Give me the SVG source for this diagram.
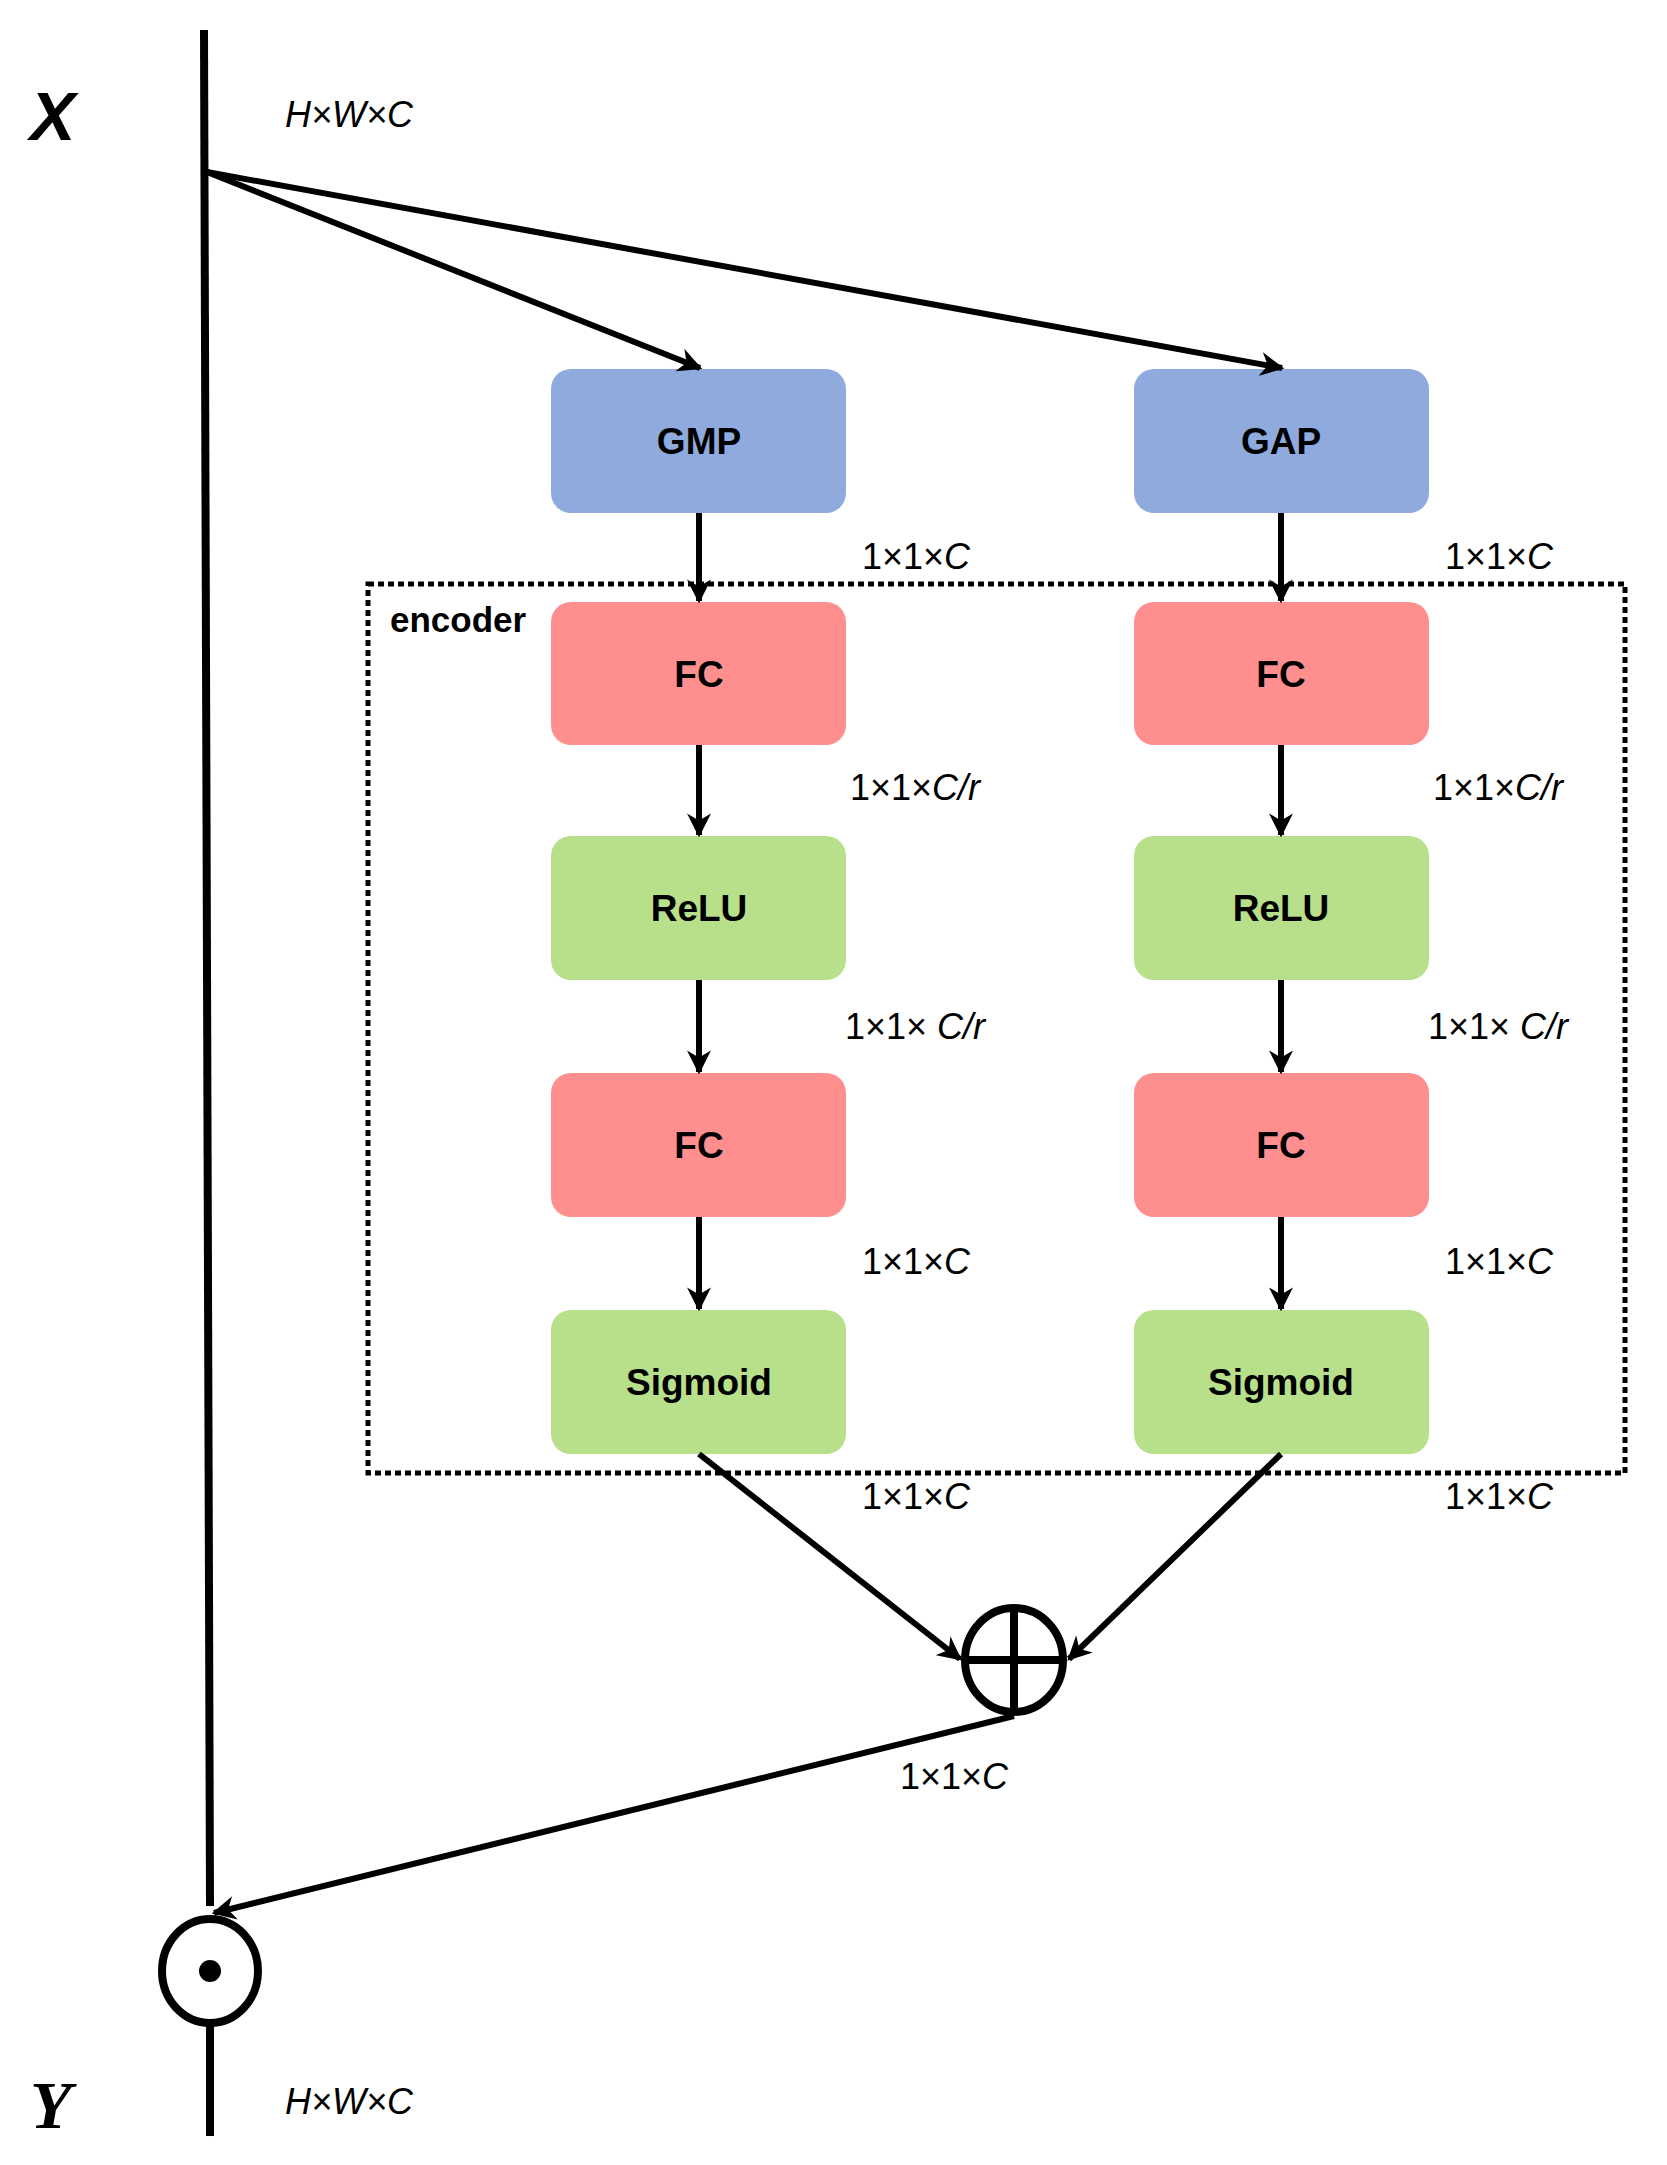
<svg xmlns="http://www.w3.org/2000/svg" width="1667" height="2165" viewBox="0 0 1667 2165">
<defs>
<marker id="ah" viewBox="0 0 10 10" refX="9" refY="5" markerWidth="5" markerHeight="5" markerUnits="userSpaceOnUse" orient="auto" style="overflow:visible">
<path d="M0,0 L10,5 L0,10 L3,5 Z" fill="#000"/>
</marker>
<marker id="ahs" viewBox="0 0 10 10" refX="9" refY="5" markerWidth="4" markerHeight="4" orient="auto">
<path d="M0,0 L10,5 L0,10 L3,5 Z" fill="#000"/>
</marker>
</defs>
<style>
.box{stroke:none}
.blue{fill:#8faadc}.red{fill:#ff8f8f}.green{fill:#b8df8a}
.bt{font-family:"Liberation Sans",Arial,sans-serif;font-weight:bold;font-size:37px;text-anchor:middle;fill:#000}
.dim{font-family:"Liberation Sans",Arial,sans-serif;font-size:36px;fill:#000}
.it{font-style:italic}
.ln{stroke:#000;fill:none;stroke-width:6}
.thk{stroke:#000;fill:none;stroke-width:8}
</style>
<rect width="1667" height="2165" fill="#fff"/>
<g id="encoder">
<rect x="368" y="584" width="1257" height="889" fill="none" stroke="#000" stroke-width="5" stroke-dasharray="6,4"/>
<text x="390" y="632" class="bt" style="text-anchor:start;font-size:35px">encoder</text>
</g>
<g id="gmp"><rect class="box blue" x="551" y="369" width="295" height="144" rx="20"/><text class="bt" x="699" y="454">GMP</text></g>
<g id="gap"><rect class="box blue" x="1134" y="369" width="295" height="144" rx="20"/><text class="bt" x="1281" y="454">GAP</text></g>
<g id="fc1a"><rect class="box red" x="551" y="602" width="295" height="143" rx="20"/><text class="bt" x="699" y="687">FC</text></g>
<g id="fc1b"><rect class="box red" x="1134" y="602" width="295" height="143" rx="20"/><text class="bt" x="1281" y="687">FC</text></g>
<g id="relua"><rect class="box green" x="551" y="836" width="295" height="144" rx="20"/><text class="bt" x="699" y="921">ReLU</text></g>
<g id="relub"><rect class="box green" x="1134" y="836" width="295" height="144" rx="20"/><text class="bt" x="1281" y="921">ReLU</text></g>
<g id="fc2a"><rect class="box red" x="551" y="1073" width="295" height="144" rx="20"/><text class="bt" x="699" y="1158">FC</text></g>
<g id="fc2b"><rect class="box red" x="1134" y="1073" width="295" height="144" rx="20"/><text class="bt" x="1281" y="1158">FC</text></g>
<g id="siga"><rect class="box green" x="551" y="1310" width="295" height="144" rx="20"/><text class="bt" x="699" y="1395">Sigmoid</text></g>
<g id="sigb"><rect class="box green" x="1134" y="1310" width="295" height="144" rx="20"/><text class="bt" x="1281" y="1395">Sigmoid</text></g>
<g id="plus">
<ellipse cx="1014" cy="1660" rx="49" ry="52" fill="#fff" stroke="#000" stroke-width="8"/>
<line x1="965" y1="1660" x2="1063" y2="1660" class="thk"/>
<line x1="1014" y1="1608" x2="1014" y2="1712" class="thk"/>
</g>
<g id="odot">
<ellipse cx="210" cy="1971" rx="48" ry="52" fill="#fff" stroke="#000" stroke-width="8"/>
<circle cx="210" cy="1971" r="11" fill="#000"/>
</g>
<g id="labels">
<text x="30" y="140" style="font-family:'Liberation Sans',Arial,sans-serif;font-weight:bold;font-style:italic;font-size:68px">X</text>
<text x="30" y="2128" style="font-family:'Liberation Serif','Times New Roman',serif;font-weight:bold;font-style:italic;font-size:68px">Y</text>
<text class="dim it" x="285" y="127">H×W×C</text>
<text class="dim it" x="285" y="2114">H×W×C</text>
<text class="dim" x="862" y="569">1×1×<tspan class="it">C</tspan></text>
<text class="dim" x="1445" y="569">1×1×<tspan class="it">C</tspan></text>
<text class="dim" x="850" y="800">1×1×<tspan class="it">C/r</tspan></text>
<text class="dim" x="1433" y="800">1×1×<tspan class="it">C/r</tspan></text>
<text class="dim" x="845" y="1039">1×1× <tspan class="it">C/r</tspan></text>
<text class="dim" x="1428" y="1039">1×1× <tspan class="it">C/r</tspan></text>
<text class="dim" x="862" y="1274">1×1×<tspan class="it">C</tspan></text>
<text class="dim" x="1445" y="1274">1×1×<tspan class="it">C</tspan></text>
<text class="dim" x="862" y="1509">1×1×<tspan class="it">C</tspan></text>
<text class="dim" x="1445" y="1509">1×1×<tspan class="it">C</tspan></text>
<text class="dim" x="900" y="1789">1×1×<tspan class="it">C</tspan></text>
</g>
<g id="connectors">
<line x1="204" y1="30" x2="210" y2="1906" class="thk" marker-end="url(#ah)" style="stroke-width:8"/>
<line x1="207" y1="172" x2="700" y2="368" class="ln" marker-end="url(#ahs)"/>
<line x1="207" y1="172" x2="1282" y2="368" class="ln" marker-end="url(#ahs)"/>
<line x1="699" y1="513" x2="699" y2="601" class="ln" marker-end="url(#ahs)"/>
<line x1="1281" y1="513" x2="1281" y2="601" class="ln" marker-end="url(#ahs)"/>
<line x1="699" y1="745" x2="699" y2="835" class="ln" marker-end="url(#ahs)"/>
<line x1="1281" y1="745" x2="1281" y2="835" class="ln" marker-end="url(#ahs)"/>
<line x1="699" y1="980" x2="699" y2="1072" class="ln" marker-end="url(#ahs)"/>
<line x1="1281" y1="980" x2="1281" y2="1072" class="ln" marker-end="url(#ahs)"/>
<line x1="699" y1="1217" x2="699" y2="1309" class="ln" marker-end="url(#ahs)"/>
<line x1="1281" y1="1217" x2="1281" y2="1309" class="ln" marker-end="url(#ahs)"/>
<line x1="699" y1="1454" x2="960" y2="1659" class="ln" marker-end="url(#ahs)"/>
<line x1="1281" y1="1454" x2="1069" y2="1659" class="ln" marker-end="url(#ahs)"/>
<line x1="1014" y1="1716" x2="214" y2="1913" class="ln" marker-end="url(#ahs)"/>
<line x1="210" y1="2023" x2="210" y2="2136" class="thk" marker-end="url(#ah)"/>
</g>
</svg>
